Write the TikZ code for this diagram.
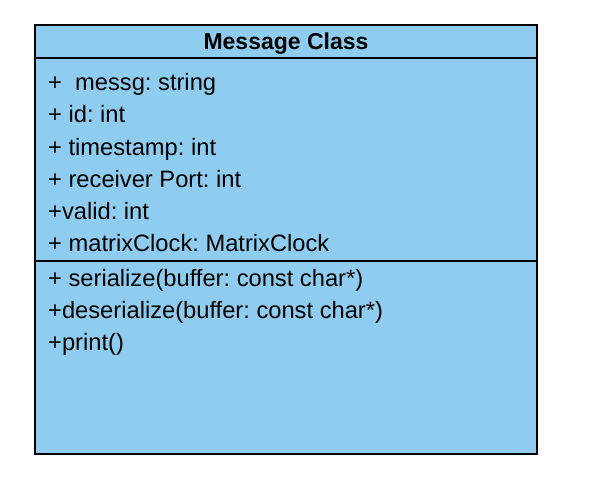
\documentclass[tikz,border=0pt]{standalone}
\usepackage{fontspec}
\setmainfont{Liberation Sans}
\frenchspacing
\definecolor{umlfill}{RGB}{142,205,240}
\begin{document}
\begin{tikzpicture}[x=1pt,y=-1pt,
  member/.style={anchor=base west,inner sep=0pt,font=\fontsize{23.7}{28}\selectfont},
  titletext/.style={anchor=base,inner sep=0pt,font=\fontsize{23}{28}\selectfont\bfseries},
  box/.style={draw=black,line width=2pt,fill=umlfill}]
\useasboundingbox (0,0) rectangle (590,496);
\path[box] (35,25) rectangle (537,454);
\draw[line width=2pt] (35,58) -- (537,58);
\draw[line width=2pt] (35,261) -- (537,261);
\node[titletext] (title) at (286,49) {Message Class};
\node[member] (a1) at (48,90) {+\ \ messg: string};
\node[member] (a2) at (48,122) {+ id: int};
\node[member] (a3) at (48,155) {+ timestamp: int};
\node[member] (a4) at (48,187) {+ receiver Port: int};
\node[member] (a5) at (48,219) {+valid: int};
\node[member] (a6) at (48,251) {+ matrixClock: MatrixClock};
\node[member] (m1) at (48,286) {+ serialize(buffer: const char*)};
\node[member] (m2) at (48,318) {+deserialize(buffer: const char*)};
\node[member] (m3) at (48,350) {+print()};
\end{tikzpicture}
\end{document}
